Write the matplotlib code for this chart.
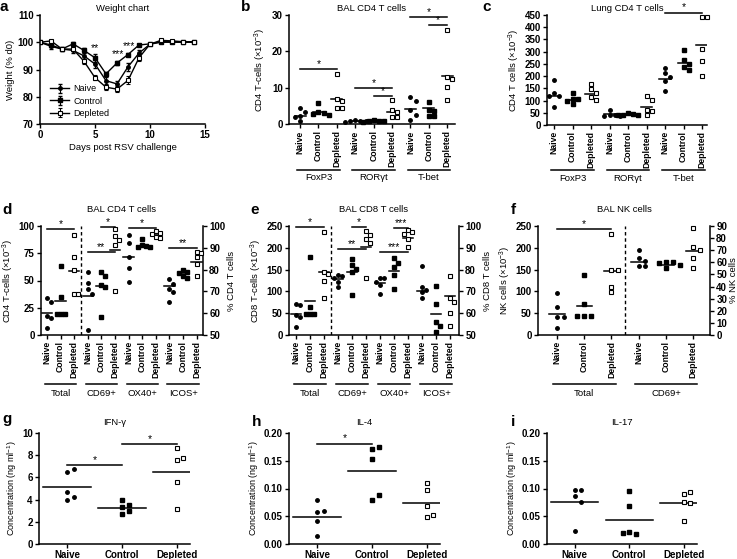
import numpy as np
import matplotlib.pyplot as plt

plt.rcParams['font.family'] = ['Liberation Sans', 'DejaVu Sans']
plt.rcParams['mathtext.fontset'] = 'custom'
plt.rcParams['mathtext.rm'] = 'Liberation Sans'
plt.rcParams['mathtext.it'] = 'Liberation Sans:italic'
plt.rcParams['axes.linewidth'] = 1.1

# ---------------- data ----------------
groups3 = ['Naive', 'Control', 'Depleted']

# a: weight chart
days = list(range(15))
naive_wt = [100, 98.5, 97.5, 97.0, 95.0, 92.0, 85.9, 84.7, 91.0, 96.0, 99.3, 100.0, 100.0, 100.0, 100.0]
naive_err = [0.3, 0.8, 0.6, 0.8, 1.0, 1.5, 1.5, 1.2, 1.5, 1.2, 0.4, 0.3, 0.3, 0.3, 0.3]
control_wt = [100, 99.0, 97.5, 99.4, 97.0, 94.3, 88.4, 92.4, 95.5, 99.0, 99.4, 100.2, 100.2, 100.1, 100.0]
control_err = [0.3, 0.6, 0.5, 0.8, 0.8, 1.5, 0.8, 0.8, 0.6, 0.5, 0.3, 0.3, 0.3, 0.3, 0.3]
depleted_wt = [100, 100.5, 97.5, 97.5, 93.0, 87.0, 83.5, 82.8, 86.0, 94.3, 99.3, 100.7, 100.5, 100.2, 100.2]
depleted_err = [0.3, 0.5, 0.5, 0.6, 0.8, 0.8, 1.2, 1.2, 1.5, 1.2, 0.4, 0.3, 0.3, 0.3, 0.3]

# b: BAL CD4 T cells (x10^-3)
b_vals = [[4.5, 3.2, 2.3, 2.0, 0.8], [5.9, 3.3, 2.9, 2.7, 2.6], [13.8, 7.0, 6.3, 4.4, 4.3],
          [1.0, 0.9, 0.8, 0.7, 0.6], [1.0, 0.9, 0.8, 0.7, 0.6], [6.6, 3.8, 3.2, 1.9, 1.9],
          [7.3, 6.2, 3.9, 2.6, 1.2], [6.0, 3.9, 3.5, 2.3, 2.1], [25.8, 12.8, 12.4, 10.1, 6.6]]
b_lines = [2.3, 3.2, 6.9, 0.8, 0.8, 3.3, 4.0, 4.5, 13.2]
b_groups = ['FoxP3', 'ROR\u03b3t', 'T-bet']
b_sig = [(0, 2, 15.1, '*'), (3, 5, 9.9, '*'), (4, 5, 7.6, '*'), (6, 8, 29.4, '*'), (7, 8, 27.3, '*')]

# c: Lung CD4 T cells (x10^-3)
c_vals = [[183, 130, 120, 118, 73], [132, 105, 105, 100, 86], [168, 146, 131, 115, 102],
          [60, 42, 40, 38, 36], [48, 44, 42, 40, 40], [118, 102, 61, 58, 41],
          [233, 212, 196, 180, 139], [307, 266, 250, 237, 225], [440, 440, 312, 262, 200]]
c_lines = [120, 103, 128, 45, 42, 72, 190, 252, 328]
c_sig = [(6, 8, 460, '*')]

# d: BAL CD4 T cells, Total (x10^-3, left) and % (right)
d_vals = [[34, 30, 17.5, 16, 6.7], [63, 35, 19.5, 19, 19], [92, 72, 60, 38, 38],
          [79, 74, 71, 69, 52.3], [79, 77, 73, 72, 58.4], [98.5, 95.4, 93.6, 91.3, 70],
          [96, 92.3, 86, 80.6, 74.5], [94, 91.3, 90.8, 90.5, 90.2], [97.5, 97, 96.5, 95, 94.3],
          [75.5, 73.4, 71, 69.5, 65.3], [80, 79, 78.5, 77, 76], [88, 87.8, 85.6, 82.6, 77]]
d_lines = [19.9, 31, 59, 68, 72.5, 89, 86, 91, 96.5, 72.5, 78.6, 83.6]
d_sig_left = [(0, 2, 97, '*')]
d_sig_right = [(3, 5, 88.2, '**'), (4, 5, 99.7, '*'), (6, 8, 98.9, '*'), (9, 11, 89.8, '**')]

# e: BAL CD8 T cells
e_vals = [[71, 69, 46, 41, 18], [180, 64, 48, 48, 48], [237, 145, 140, 125, 86],
          [77.5, 77, 76, 74.5, 72.2], [84.7, 82.1, 80.1, 79, 68.3], [97.9, 95.9, 93.9, 92.4, 76],
          [76.2, 76, 74.5, 73, 69], [85.2, 83.2, 81.3, 77.5, 71.1], [98.2, 97.4, 96.3, 93.9, 90.2],
          [81.6, 72, 70.5, 69.5, 66.8], [72.5, 64, 56, 54, 51.5], [77, 66.8, 65.3, 59.9, 54.1]]
e_lines = [49, 78, 144, 75.5, 79, 90.5, 73.7, 79.5, 94.3, 70.2, 59.8, 68]
e_sig_left = [(0, 2, 247, '*')]
e_sig_right = [(3, 5, 89.4, '**'), (4, 5, 99.7, '*'), (6, 8, 87.9, '***'), (7, 8, 99.2, '***')]
de_groups = ['Total', 'CD69+', 'OX40+', 'ICOS+']

# f: BAL NK cells
f_vals = [[95.6, 65, 40.5, 40.5, 15.3], [137, 71, 44, 44, 44], [232, 150, 149, 111, 99],
          [70.2, 63.3, 61.4, 57, 57], [60.5, 60, 59.5, 57.5, 55], [88, 72.5, 70, 63.3, 55]]
f_lines = [49, 67, 147, 60.4, 58, 69]
f_sig_left = [(0, 2, 242, '*')]
f_groups = ['Total', 'CD69+']

# g-i: cytokines (ng/ml)
g_vals = [[6.45, 6.78, 4.64, 3.98, 4.19], [3.98, 3.31, 3.52, 2.71, 3.01], [8.64, 7.53, 7.74, 5.63, 3.13]]
g_lines = [5.1, 3.2, 6.5]
g_sig = [(0, 1, 7.14, '*'), (1, 2, 9.04, '*')]
h_vals = [[0.079, 0.058, 0.059, 0.041, 0.014], [0.171, 0.174, 0.154, 0.080, 0.088],
          [0.098, 0.110, 0.068, 0.0485, 0.0515]]
h_lines = [0.048, 0.132, 0.0745]
h_sig = [(0, 1, 0.181, '*')]
i_vals = [[0.086, 0.097, 0.098, 0.076, 0.024], [0.095, 0.068, 0.021, 0.018, 0.020],
          [0.090, 0.0945, 0.075, 0.073, 0.042]]
i_lines = [0.075, 0.043, 0.073]

# ---------------- drawing ----------------
W, H = 737, 559
fig = plt.figure(figsize=(W / 100, H / 100), dpi=100)

TICK = 7.0
CAT = 6.2
LAB = 6.8


def box(l, t, r, b):
    return fig.add_axes([l / W, 1 - b / H, (r - l) / W, (b - t) / H])


def style(ax, right=False):
    ax.spines['top'].set_visible(False)
    if not right:
        ax.spines['right'].set_visible(False)
    ax.tick_params(direction='out', length=3, width=1, labelsize=TICK, pad=1.5)


def swarm(v, tol, step):
    placed, offs = [], []
    for y in v:
        for k in [0, 1, -1, 2, -2, 3, -3]:
            o = k * step
            if all(abs(y - py) >= tol or abs(o - po) >= step * 0.9 for py, po in placed):
                break
        placed.append((y, o))
        offs.append(o)
    return np.array(offs)


def dots(ax, i, v, line, half, step, tol):
    kind = i % 3
    x = i + swarm(v, tol, step)
    if kind == 0:
        ax.plot(x, v, ls='none', marker='o', ms=2.5, color='k', clip_on=False, zorder=3)
    elif kind == 1:
        ax.plot(x, v, ls='none', marker='s', ms=2.4, color='k', clip_on=False, zorder=3)
    else:
        ax.plot(x, v, ls='none', marker='s', ms=2.8, mfc='white', mec='k', mew=0.8,
                clip_on=False, zorder=3)
    ax.plot([i - half, i + half], [line, line], color='k', lw=1.1, zorder=2)


def sig(ax, bars, fs=7.5):
    for a, b, y, s in bars:
        ax.plot([a, b], [y, y], color='k', lw=1.1, clip_on=False)
        ax.annotate(s, ((a + b) / 2, y), xytext=(0, 0), textcoords='offset points',
                    ha='center', va='bottom', fontsize=fs, annotation_clip=False)


def cat_axis(ax, n, groups, line_y, text_y, half=1.15):
    ax.set_xticks(range(n))
    ax.set_xticklabels(groups3 * (n // 3), rotation=90, fontsize=CAT, fontweight='bold')
    tr = ax.get_xaxis_transform()
    per = n // len(groups)
    for k, g in enumerate(groups):
        c = k * per + (per - 1) / 2
        ax.plot([c - half, c + half], [line_y, line_y], color='k', lw=1.1,
                transform=tr, clip_on=False)
        ax.text(c, text_y, g, transform=tr, ha='center', va='center', fontsize=6.8)


def letter(x, y, s):
    fig.text(x / W, 1 - y / H, s, fontsize=11, fontweight='bold', ha='left', va='top')


def bold_ticks(ax):
    for t in ax.get_yticklabels():
        t.set_fontweight('bold')


X3 = r'($\times$10$^{-3}$)'

# ---- a ----
ax = box(40, 15, 205, 124)
style(ax)
ax.errorbar(days, naive_wt, yerr=naive_err, color='k', marker='o', ms=2.5, lw=1,
            elinewidth=0.8, capsize=1.5, label='Naive')
ax.errorbar(days, control_wt, yerr=control_err, color='k', marker='s', ms=3, lw=1,
            elinewidth=0.8, capsize=1.5, label='Control')
ax.errorbar(days, depleted_wt, yerr=depleted_err, color='k', marker='s', ms=3, mfc='white',
            mew=0.8, lw=1, elinewidth=0.8, capsize=1.5, label='Depleted')
ax.set_xlim(0, 15)
ax.set_ylim(70, 110)
ax.set_xticks([0, 5, 10, 15])
ax.set_yticks([70, 80, 90, 100, 110])
ax.text(5, 96.8, '**', ha='center', fontsize=7.5)
ax.text(7.1, 94.5, '***', ha='center', fontsize=7.5)
ax.text(8.1, 97.5, '***', ha='center', fontsize=7.5)
ax.set_xlabel('Days post RSV challenge', fontsize=LAB, labelpad=2)
ax.set_ylabel('Weight (% d0)', fontsize=LAB, labelpad=2)
ax.set_title('Weight chart', fontsize=LAB, pad=3)
ax.legend(loc='lower left', bbox_to_anchor=(0.02, 0.0), frameon=False, fontsize=6.5,
          handlelength=2.2, labelspacing=0.35, handletextpad=0.4, borderaxespad=0.3)
for t in ax.get_xticklabels() + ax.get_yticklabels():
    t.set_fontweight('bold')
letter(0, 0, 'a')

# ---- b ----
ax = box(289, 15, 455, 124)
style(ax)
for i, v in enumerate(b_vals):
    dots(ax, i, v, b_lines[i], 0.3, 0.28, 1.3)
ax.set_xlim(-0.6, 8.42)
ax.set_ylim(0, 30)
ax.set_yticks([0, 10, 20, 30])
sig(ax, b_sig)
cat_axis(ax, 9, b_groups, -0.42, -0.495)
ax.set_ylabel('CD4 T-cells ' + X3, fontsize=LAB, labelpad=3)
ax.set_title('BAL CD4 T cells', fontsize=LAB, pad=3)
bold_ticks(ax)
letter(241, 0, 'b')

# ---- c ----
ax = box(547, 15, 707, 125)
style(ax)
for i, v in enumerate(c_vals):
    dots(ax, i, v, c_lines[i], 0.3, 0.28, 19)
ax.set_xlim(-0.38, 8.27)
ax.set_ylim(0, 450)
ax.set_yticks(range(0, 451, 50))
sig(ax, c_sig)
cat_axis(ax, 9, b_groups, -0.41, -0.49)
ax.set_ylabel('CD4 T cells ' + X3, fontsize=LAB, labelpad=2)
ax.set_title('Lung CD4 T cells', fontsize=LAB, pad=3)
bold_ticks(ax)
letter(482, 0, 'c')


# ---- d, e, f (twin axes) ----
def twin_panel(l, t, r, b, vals, lines, n_left, xlim, lylim, lyt, rylim, ryt, sl, sr,
               groups, half, step, llabel, rlabel, title, half_grp):
    ax = box(l, t, r, b)
    style(ax)
    ax2 = ax.twinx()
    ax2.spines['top'].set_visible(False)
    ax2.spines['left'].set_visible(False)
    ax2.spines['bottom'].set_visible(False)
    ax2.tick_params(direction='out', length=3, width=1, labelsize=TICK, pad=1.5)
    ax.set_ylim(*lylim)
    ax2.set_ylim(*rylim)
    for i, v in enumerate(vals):
        if i < n_left:
            dots(ax, i, v, lines[i], half, step, 0.045 * (lylim[1] - lylim[0]))
        else:
            dots(ax2, i, v, lines[i], half, step, 0.045 * (rylim[1] - rylim[0]))
    ax.set_xlim(*xlim)
    ax.set_yticks(lyt)
    ax2.set_yticks(ryt)
    ax.axvline(n_left - 0.5, color='k', lw=1, ls=(0, (2.5, 2)))
    sig(ax, sl)
    sig(ax2, sr)
    n = len(vals)
    cat_axis(ax, n, groups, -0.45, -0.535, half_grp)
    ax.set_ylabel(llabel, fontsize=LAB, labelpad=2)
    ax2.set_ylabel(rlabel, fontsize=LAB, labelpad=1)
    ax.set_title(title, fontsize=LAB, pad=10)
    bold_ticks(ax)
    bold_ticks(ax2)
    return ax, ax2


twin_panel(41, 226, 203, 335, d_vals, d_lines, 3, (-0.44, 11.47), (0, 100),
           [0, 25, 50, 75, 100], (50, 100), range(50, 101, 10), d_sig_left, d_sig_right,
           de_groups, 0.38, 0.3, 'CD4 T-cells ' + X3, '% CD4 T cells', 'BAL CD4 T cells', 1.15)
letter(2, 203, 'd')

twin_panel(289, 226, 459, 335, e_vals, e_lines, 3, (-0.5, 11.64), (0, 250),
           range(0, 251, 50), (50, 100), range(50, 101, 10), e_sig_left, e_sig_right,
           de_groups, 0.38, 0.3, 'CD8 T-cells ' + X3, '% CD8 T cells', 'BAL CD8 T cells', 1.15)
letter(250, 203, 'e')

twin_panel(538, 226, 710, 335, f_vals, f_lines, 3, (-0.7, 5.62), (0, 250),
           range(0, 251, 50), (0, 90), range(0, 91, 10), f_sig_left, [],
           f_groups, 0.28, 0.25, 'NK cells ' + X3, '% NK cells', 'BAL NK cells', 1.15)
letter(511, 203, 'f')


# ---- g, h, i ----
def cyto(l, r, vals, lines, ylim, yt, fmt, bars, title):
    ax = box(l, 433, r, 544)
    style(ax)
    for i, v in enumerate(vals):
        dots(ax, i, v, lines[i], 0.43, 0.12, 0.05 * (ylim[1] - ylim[0]))
    ax.set_xlim(-0.51, 2.24)
    ax.set_ylim(*ylim)
    ax.set_yticks(yt)
    ax.set_yticklabels([fmt.format(t) for t in yt])
    ax.set_xticks(range(3))
    ax.set_xticklabels(groups3, fontsize=7, fontweight='bold')
    sig(ax, bars)
    ax.set_ylabel('Concentration (ng ml$^{-1}$)', fontsize=6.5, labelpad=2)
    ax.set_title(title, fontsize=LAB, pad=6)
    bold_ticks(ax)
    return ax


cyto(39, 190, g_vals, g_lines, (0, 10), [0, 2, 4, 6, 8, 10], '{:g}', g_sig, 'IFN-\u03b3')
letter(2, 412, 'g')
cyto(289, 440, h_vals, h_lines, (0, 0.2), [0, 0.05, 0.1, 0.15, 0.2], '{:.2f}', h_sig, 'IL-4')
letter(252, 415, 'h')
cyto(547, 697, i_vals, i_lines, (0, 0.2), [0, 0.05, 0.1, 0.15, 0.2], '{:.2f}', [], 'IL-17')
letter(511, 415, 'i')

fig.savefig('out.png', dpi=100)
